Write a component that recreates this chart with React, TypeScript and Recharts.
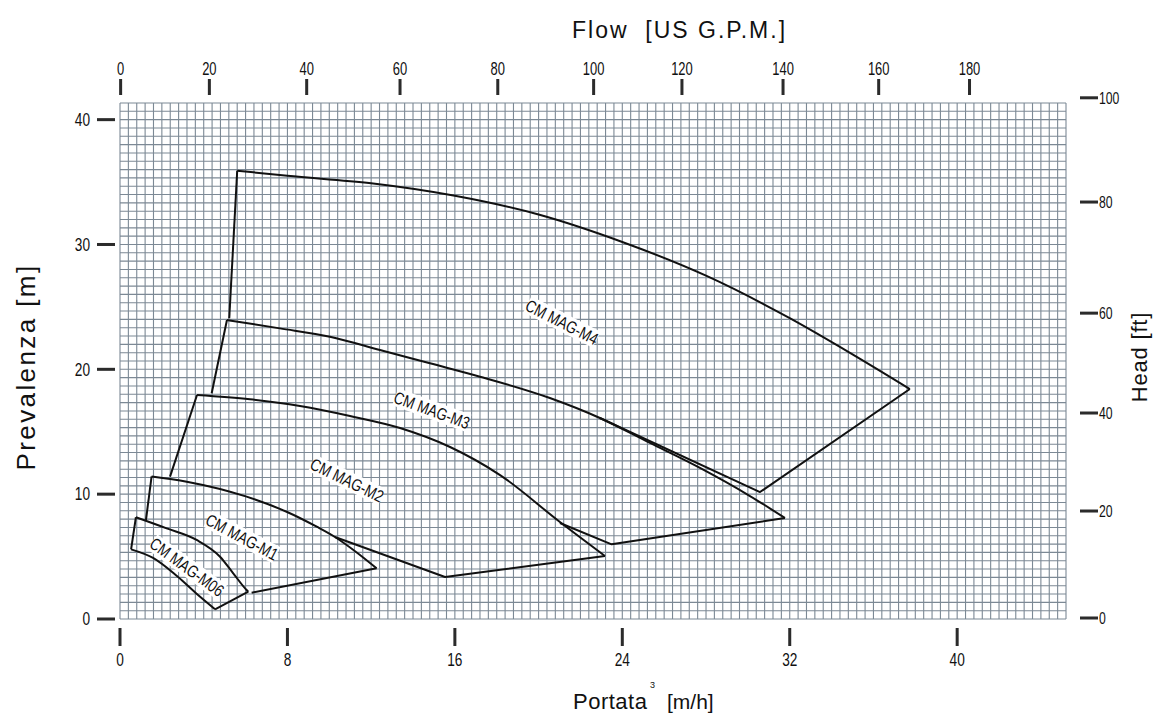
import React from 'react';
import { ComposedChart, Line, XAxis, YAxis, CartesianGrid, Scatter } from 'recharts';

// ---- axis ticks (values) ----
const flowTicks = [0, 8, 16, 24, 32, 40];
const gpmTickPos = [0.03, 4.27, 8.92, 13.38, 18.05, 22.63, 26.85, 31.68, 36.25, 40.59];
const gpmTickLabels = ['0', '20', '40', '60', '80', '100', '120', '140', '160', '180'];
const headTicks = [0, 10, 20, 30, 40];
const headFtTickPos = [0.08, 8.65, 16.5, 24.5, 33.4, 41.75];
const headFtLabels = ['0', '20', '40', '60', '80', '100'];

// ---- pump envelopes (q: m3/h, h: m) ----
// CM MAG-M06
const m06Left = [{ q: 0.53, h: 5.58 }, { q: 0.76, h: 8.15 }];
const m06Top = [
  { q: 0.76, h: 8.15 }, { q: 2.23, h: 7.26 }, { q: 3.66, h: 6.33 }, { q: 4.78, h: 4.99 },
  { q: 5.41, h: 3.66 }, { q: 6.05, h: 2.32 }, { q: 6.13, h: 2.19 },
];
const m06Right = [{ q: 6.13, h: 2.19 }, { q: 4.54, h: 0.78 }];
const m06Low = [
  { q: 0.53, h: 5.58 }, { q: 1.58, h: 4.89 }, { q: 2.72, h: 3.44 }, { q: 3.73, h: 1.92 }, { q: 4.54, h: 0.78 },
];
// CM MAG-M1
const m1Left = [{ q: 1.24, h: 7.93 }, { q: 1.51, h: 11.42 }];
const m1Top = [
  { q: 1.51, h: 11.42 }, { q: 3.19, h: 11.0 }, { q: 6.05, h: 9.8 }, { q: 7.96, h: 8.59 },
  { q: 9.4, h: 7.39 }, { q: 10.27, h: 6.57 }, { q: 11.28, h: 5.37 }, { q: 12.26, h: 4.06 },
];
const m1Low = [{ q: 12.26, h: 4.06 }, { q: 6.29, h: 2.11 }];
// CM MAG-M2
const m2Left = [{ q: 2.39, h: 11.4 }, { q: 3.68, h: 17.94 }];
const m2Top = [
  { q: 3.68, h: 17.94 }, { q: 6.21, h: 17.6 }, { q: 8.6, h: 17.06 }, { q: 10.99, h: 16.26 },
  { q: 13.38, h: 15.3 }, { q: 15.77, h: 13.78 }, { q: 18.16, h: 11.53 }, { q: 21.02, h: 7.77 },
  { q: 23.17, h: 5.05 },
];
const m2Low = [{ q: 23.17, h: 5.05 }, { q: 15.53, h: 3.36 }, { q: 10.27, h: 6.57 }];
// CM MAG-M3
const m3Left = [{ q: 4.38, h: 18.08 }, { q: 5.11, h: 23.95 }];
const m3Top = [
  { q: 5.11, h: 23.95 }, { q: 7.64, h: 23.28 }, { q: 10.03, h: 22.61 }, { q: 12.42, h: 21.55 },
  { q: 14.81, h: 20.48 }, { q: 17.2, h: 19.41 }, { q: 20.54, h: 17.7 }, { q: 22.93, h: 16.1 },
  { q: 25.32, h: 14.1 }, { q: 27.71, h: 12.1 }, { q: 30.1, h: 9.85 }, { q: 31.77, h: 8.09 },
];
const m3Low = [{ q: 31.77, h: 8.09 }, { q: 23.49, h: 5.98 }, { q: 21.02, h: 7.69 }];
// CM MAG-M4
const m4Left = [{ q: 5.22, h: 24.09 }, { q: 5.6, h: 35.91 }];
const m4Top = [
  { q: 5.6, h: 35.91 }, { q: 8, h: 35.5 }, { q: 12, h: 34.9 }, { q: 16, h: 33.9 },
  { q: 20, h: 32.4 }, { q: 24, h: 30.2 }, { q: 28, h: 27.5 }, { q: 32, h: 24.1 },
  { q: 35, h: 21.2 }, { q: 37.74, h: 18.42 },
];
const m4Low = [{ q: 37.74, h: 18.42 }, { q: 30.58, h: 10.17 }, { q: 22.93, h: 16.1 }];

// ---- curve names and where they sit ----
const pumpNames = ['CM MAG-M4', 'CM MAG-M3', 'CM MAG-M2', 'CM MAG-M1', 'CM MAG-M06'];
const nameQ = [21.12, 14.9, 10.85, 5.83, 3.2];
const nameH = [23.79, 16.74, 11.13, 6.57, 4.17];
const nameAngles = [27, 20, 26, 28, 36];

const labelData = pumpNames.map((t, i) => ({ q: nameQ[i], h: nameH[i], text: t, angle: nameAngles[i] }));

const smoothParts = [m06Top, m06Low, m1Top, m2Top, m3Top, m4Top];
const straightParts = [m06Left, m06Right, m1Left, m1Low, m2Left, m2Low, m3Left, m3Low, m4Left, m4Low];

const X_MAX = 45.2;
const Y_MAX = 41.3333;
const gridV: number[] = [];
for (let i = 0; i <= 113; i++) gridV.push(+(i * 0.4).toFixed(3));
const gridH: number[] = [];
for (let i = 0; i <= 62; i++) gridH.push(+((i * 2) / 3).toFixed(4));

const SANS = "'Liberation Sans', Arial, sans-serif";
const BAR = '#2b2b2b';

const NText = ({ x, y, anchor, size, sx, children }: any) => (
  <text
    transform={`translate(${x} ${y}) scale(${sx} 1)`}
    textAnchor={anchor}
    dominantBaseline="central"
    fontSize={size}
    fontFamily={SANS}
    fill="#111"
  >
    {children}
  </text>
);

const LeftTick = (p: any) => (
  <g>
    <rect x={p.x - 23} y={p.y - 1.5} width={18} height={3} fill={BAR} />
    <NText x={p.x - 30} y={p.y} anchor="end" size={18} sx={0.76}>{p.payload.value}</NText>
  </g>
);
const RightTick = (p: any) => (
  <g>
    <rect x={p.x + 14} y={p.y - 1.5} width={18} height={3} fill={BAR} />
    <NText x={p.x + 33} y={p.y} anchor="start" size={17} sx={0.72}>{headFtLabels[p.index]}</NText>
  </g>
);
const BottomTick = (p: any) => (
  <g>
    <rect x={p.x - 1.5} y={p.y + 9} width={3} height={18} fill={BAR} />
    <NText x={p.x} y={p.y + 41} anchor="middle" size={18} sx={0.76}>{p.payload.value}</NText>
  </g>
);
const TopTick = (p: any) => (
  <g>
    <rect x={p.x - 1.5} y={p.y - 24} width={3} height={16} fill={BAR} />
    <NText x={p.x} y={p.y - 34} anchor="middle" size={18} sx={0.72}>{gpmTickLabels[p.index]}</NText>
  </g>
);

const NameShape = (p: any) => {
  const { cx, cy, payload } = p;
  const w = payload.text.length * 8.2 + 4;
  return (
    <g transform={`rotate(${payload.angle} ${cx} ${cy})`}>
      <rect x={cx - w / 2} y={cy - 9} width={w} height={18} fill="#fff" />
      <NText x={cx} y={cy} anchor="middle" size={17} sx={0.8}>{payload.text}</NText>
    </g>
  );
};

export default function App() {
  return (
    <div style={{ position: 'relative', width: 1157, height: 715, background: '#fff', overflow: 'hidden' }}>
      <style>{'html,body{margin:0;padding:0;overflow:hidden;}'}</style>
      <ComposedChart
        width={1157}
        height={715}
        margin={{ top: 73, right: 31, bottom: 66, left: 60 }}
      >
        <CartesianGrid
          xAxisId="b"
          yAxisId="l"
          horizontalValues={gridH}
          verticalValues={gridV}
          stroke="#7c8995"
          strokeWidth={1.1}
        />
        <XAxis
          xAxisId="b"
          dataKey="q"
          type="number"
          domain={[0, X_MAX]}
          allowDataOverflow
          ticks={flowTicks}
          interval={0}
          axisLine={false}
          tickLine={false}
          tickSize={0}
          tickMargin={0}
          height={30}
          tick={<BottomTick />}
        />
        <XAxis
          xAxisId="t"
          orientation="top"
          dataKey="q"
          type="number"
          domain={[0, X_MAX]}
          allowDataOverflow
          ticks={gpmTickPos}
          interval={0}
          axisLine={false}
          tickLine={false}
          tickSize={0}
          tickMargin={0}
          height={30}
          tick={<TopTick />}
        />
        <YAxis
          yAxisId="l"
          type="number"
          domain={[0, Y_MAX]}
          allowDataOverflow
          ticks={headTicks}
          interval={0}
          axisLine={false}
          tickLine={false}
          tickSize={0}
          tickMargin={0}
          width={60}
          tick={<LeftTick />}
        />
        <YAxis
          yAxisId="r"
          orientation="right"
          type="number"
          domain={[0, Y_MAX]}
          allowDataOverflow
          ticks={headFtTickPos}
          interval={0}
          axisLine={false}
          tickLine={false}
          tickSize={0}
          tickMargin={0}
          width={60}
          tick={<RightTick />}
        />
        {smoothParts.map((c, i) => (
          <Line
            key={'s' + i}
            xAxisId="b"
            yAxisId="l"
            data={c}
            dataKey="h"
            type="monotone"
            stroke="#111"
            strokeWidth={2}
            dot={false}
            activeDot={false}
            isAnimationActive={false}
          />
        ))}
        {straightParts.map((c, i) => (
          <Line
            key={'l' + i}
            xAxisId="b"
            yAxisId="l"
            data={c}
            dataKey="h"
            type="linear"
            stroke="#111"
            strokeWidth={2}
            dot={false}
            activeDot={false}
            isAnimationActive={false}
            strokeLinejoin="round"
          />
        ))}
        <Scatter
          xAxisId="b"
          yAxisId="l"
          data={labelData}
          dataKey="h"
          shape={<NameShape />}
          isAnimationActive={false}
        />
      </ComposedChart>
      <svg width={1157} height={715} style={{ position: 'absolute', left: 0, top: 0, pointerEvents: 'none' }}>
        <text x={572} y={38} fontSize={23} letterSpacing={2} fontFamily={SANS} fill="#111" style={{ whiteSpace: 'pre' }}>
          {'Flow  [US G.P.M.]'}
        </text>
        <text
          transform="translate(35 367) rotate(-90)"
          textAnchor="middle"
          fontSize={26}
          letterSpacing={2.4}
          fontFamily={SANS}
          fill="#111"
        >
          Prevalenza [m]
        </text>
        <text
          transform="translate(1147 357) rotate(-90)"
          textAnchor="middle"
          fontSize={22}
          letterSpacing={0.8}
          fontFamily={SANS}
          fill="#111"
        >
          Head [ft]
        </text>
        <text x={573} y={709} fontSize={22} letterSpacing={0.5} fontFamily={SANS} fill="#111">Portata</text>
        <text x={667} y={709} fontSize={21} fontFamily={SANS} fill="#111">[m/h]</text>
        <text x={650} y={688} fontSize={9} fontFamily={SANS} fill="#111">3</text>
      </svg>
    </div>
  );
}
